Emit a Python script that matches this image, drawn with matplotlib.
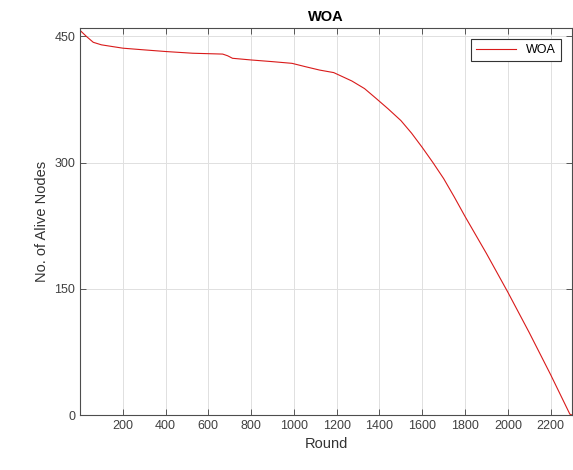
import matplotlib
matplotlib.use('Agg')
import matplotlib.pyplot as plt

plt.rcParams['font.family'] = ['Liberation Sans', 'DejaVu Sans']

# values
rounds = [1, 30, 62, 100, 150, 201, 300, 403, 527, 667, 690, 713, 800, 900, 991,
          1054, 1120, 1186, 1271, 1330, 1381, 1440, 1500, 1550, 1600, 1650,
          1700, 1750, 1800, 1900, 2000, 2100, 2200, 2290, 2300]
alive = [457, 450, 443, 440, 438, 436, 434, 432, 430, 429, 427, 424, 422, 420, 418,
         414, 410, 407, 397, 388, 377, 364, 350, 335, 318, 300,
         281, 259, 236, 192, 146, 98, 48, 1, 0]

xticks = [200, 400, 600, 800, 1000, 1200, 1400, 1600, 1800, 2000, 2200]
yticks = [0, 150, 300, 450]

fig = plt.figure(figsize=(5.73, 4.70), dpi=100)
ax = fig.add_axes([80/573, 1 - 415/470, 492/573, 387/470])

ax.plot(rounds, alive, color=(0.85, 0.1, 0.1), linewidth=0.8, label='WOA')

ax.set_xlim(0, 2300)
ax.set_ylim(0, 460)
ax.set_xticks(xticks)
ax.set_yticks(yticks)
ax.grid(True, color=(0.88, 0.88, 0.88), linewidth=0.7)
ax.set_axisbelow(True)
ax.tick_params(direction='in', top=True, right=True, labelsize=9,
               colors=(0.25, 0.25, 0.25), length=4, width=0.6)
for s in ax.spines.values():
    s.set_color((0.3, 0.3, 0.3))
    s.set_linewidth(0.8)

ax.set_xlabel('Round', fontsize=10.5, color=(0.2, 0.2, 0.2))
ax.set_ylabel('No. of Alive Nodes', fontsize=10.5, color=(0.2, 0.2, 0.2))
ax.set_title('WOA', fontsize=10.5, fontweight='bold', pad=5)

leg = ax.legend(loc='upper right', fontsize=9, fancybox=False, framealpha=1,
                edgecolor=(0.2, 0.2, 0.2), borderaxespad=0.9, handlelength=3.2)
leg.get_frame().set_linewidth(0.8)

fig.savefig('out.png', dpi=100)
